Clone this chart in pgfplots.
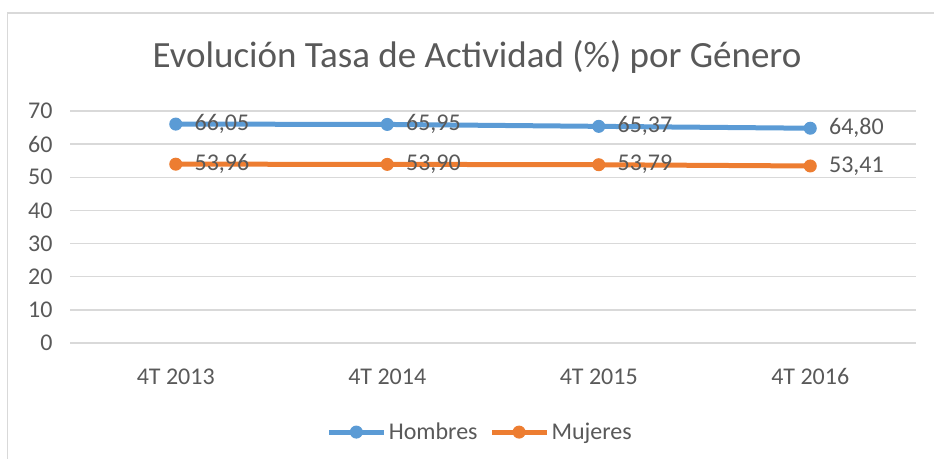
\documentclass[border=0pt]{standalone}
\usepackage{fontspec}
\setmainfont{Carlito}
\usepackage{pgfplots}
\pgfplotsset{compat=1.18}
\definecolor{hblue}{HTML}{5B9BD5}
\definecolor{morange}{HTML}{ED7D31}
\definecolor{gridg}{HTML}{D9D9D9}
\definecolor{txt}{HTML}{595959}
\begin{document}
\begin{tikzpicture}
\useasboundingbox (0pt,0pt) rectangle (934pt,458pt);
\draw[gridg, line width=1.5pt] (7.5pt,-5pt) -- (7.5pt,445pt) -- (940pt,445pt);
\node[text=txt, font=\fontsize{37}{44}\selectfont] at (477pt,401pt) {Evolución Tasa de Actividad (\%) por Género};
\begin{axis}[
  at={(70pt,115pt)}, anchor=south west, scale only axis,
  width=846pt, height=232pt,
  xmin=-0.5, xmax=3.5, ymin=0, ymax=70,
  ytick={0,10,...,70}, xtick={0,1,2,3},
  xticklabels={4T 2013,4T 2014,4T 2015,4T 2016},
  axis line style={draw=none}, major tick length=0pt,
  ymajorgrids, grid style={gridg, line width=1.5pt},
  tick label style={font=\fontsize{24}{28}\selectfont, text=txt},
  /pgf/number format/assume math mode=true,
  yticklabel style={xshift=-14pt},
  xticklabel style={yshift=-22pt},
  clip=false,
  legend style={at={(0.485,-0.384)}, anchor=center, draw=none, legend columns=2,
    font=\fontsize{24}{28}\selectfont, text=txt,
    /tikz/every even column/.append style={column sep=10pt}},
  legend image code/.code={\draw[mark repeat=2, mark phase=2, #1] plot coordinates {(0pt,0pt) (27pt,0pt) (55pt,0pt)};},
  nodes near coords={\pgfmathprintnumber[fixed,fixed zerofill,precision=2,use comma,assume math mode=true]{\pgfplotspointmeta}},
  every node near coord/.style={anchor=west, xshift=15pt, text=txt, font=\fontsize{24}{28}\selectfont},
]
\addplot[hblue, line width=5pt, mark=*, mark size=6pt, mark options={solid, line width=1pt}] coordinates {(0,66.05) (1,65.95) (2,65.37) (3,64.80)};
\addlegendentry{Hombres}
\addplot[morange, line width=5pt, mark=*, mark size=6pt, mark options={solid, line width=1pt}] coordinates {(0,53.96) (1,53.90) (2,53.79) (3,53.41)};
\addlegendentry{Mujeres}
\end{axis}
\end{tikzpicture}
\end{document}
